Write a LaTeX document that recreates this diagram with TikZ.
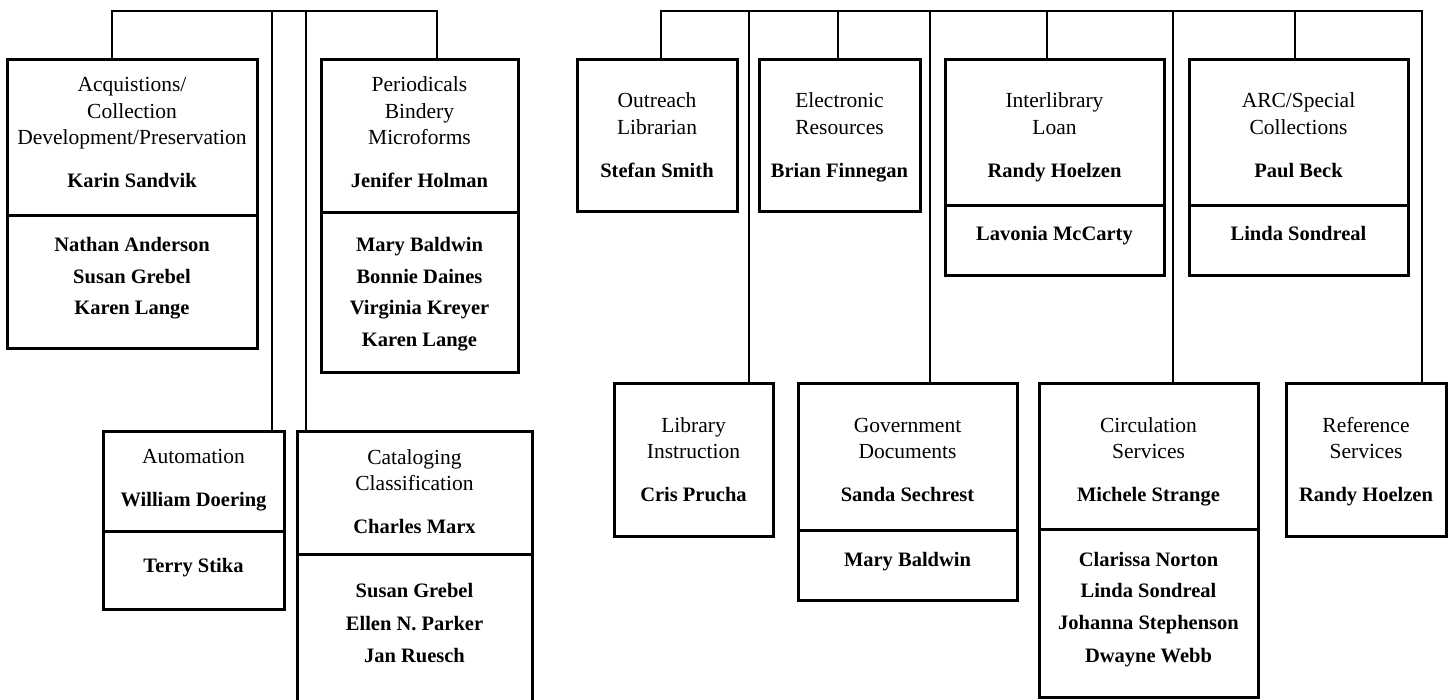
\documentclass[tikz,border=0pt]{standalone}
\usepackage{fontspec}
\setmainfont{Liberation Serif}
\newcommand{\mkbox}[5]{\node[box, minimum width={#4-#2}, minimum height={#5-#3}] (#1) at ({(#2+#4)/2},{(#3+#5)/2}) {};}
\newcommand{\mkdiv}[2]{\draw[div] (#1.west |- 0,#2) -- (#1.east |- 0,#2);}
\newcommand{\txt}[5]{\node[#2] (#1) at (#3.center |- 0,#4) {#5};}
\begin{document}
\begin{tikzpicture}[x=1pt,y=-1pt,
  box/.style={draw, line width=3pt, rectangle, inner sep=0pt, outer sep=0pt},
  div/.style={line width=3pt},
  conn/.style={line width=2.8pt, line join=miter},
  ttl/.style={anchor=base, inner sep=0pt, font=\fontsize{21.5}{26}\selectfont},
  nm/.style={anchor=base, inner sep=0pt, font=\fontsize{20.5}{26}\selectfont\bfseries}]
\useasboundingbox (0,0) rectangle (1452,700);
\clip (0,0) rectangle (1452,700);

% ---------- boxes ----------
\mkbox{acq}{7}{60}{257}{349}
\mkbox{per}{321}{60}{518}{373}
\mkbox{auto}{103}{432}{284}{609}
\mkbox{cat}{297}{432}{532}{720}
\mkbox{out}{577}{60}{737}{212}
\mkbox{ele}{759}{60}{920}{212}
\mkbox{ill}{945}{60}{1164}{276}
\mkbox{arc}{1189}{60}{1408}{276}
\mkbox{li}{614}{384}{773}{536}
\mkbox{gov}{798}{384}{1017}{600}
\mkbox{circ}{1039}{384}{1258}{697}
\mkbox{ref}{1286}{384}{1446}{536}

\mkdiv{acq}{216}
\mkdiv{per}{213}
\mkdiv{auto}{531}
\mkdiv{cat}{554}
\mkdiv{ill}{206}
\mkdiv{arc}{206}
\mkdiv{gov}{530}
\mkdiv{circ}{529}

% ---------- connectors ----------
\coordinate (L1) at (112,11);
\coordinate (L2) at (272,11);
\coordinate (L3) at (306,11);
\coordinate (L4) at (437,11);
\draw[conn] (L1 |- acq.north) -- (L1) -- (L4) -- (L4 |- per.north);
\draw[conn] (L2) -- (L2 |- auto.north);
\draw[conn] (L3) -- (L3 |- cat.north);

\coordinate (R1) at (661,11);
\coordinate (R2) at (749,11);
\coordinate (R3) at (838,11);
\coordinate (R4) at (930,11);
\coordinate (R5) at (1047,11);
\coordinate (R6) at (1173,11);
\coordinate (R7) at (1295,11);
\coordinate (R8) at (1422,11);
\draw[conn] (R1 |- out.north) -- (R1) -- (R8) -- (R8 |- ref.north);
\draw[conn] (R2) -- (R2 |- li.north);
\draw[conn] (R3) -- (R3 |- ele.north);
\draw[conn] (R4) -- (R4 |- gov.north);
\draw[conn] (R5) -- (R5 |- ill.north);
\draw[conn] (R6) -- (R6 |- circ.north);
\draw[conn] (R7) -- (R7 |- arc.north);

% ---------- texts ----------
\txt{acqA}{ttl}{acq}{92}{Acquistions/}
\txt{acqB}{ttl}{acq}{119}{Collection}
\txt{acqC}{ttl}{acq}{145}{Development/Preservation}
\txt{acqN}{nm}{acq}{188}{Karin Sandvik}
\txt{acqS1}{nm}{acq}{252}{Nathan Anderson}
\txt{acqS2}{nm}{acq}{283.5}{Susan Grebel}
\txt{acqS3}{nm}{acq}{315}{Karen Lange}

\txt{perA}{ttl}{per}{92}{Periodicals}
\txt{perB}{ttl}{per}{118.5}{Bindery}
\txt{perC}{ttl}{per}{145}{Microforms}
\txt{perN}{nm}{per}{188}{Jenifer Holman}
\txt{perS1}{nm}{per}{252}{Mary Baldwin}
\txt{perS2}{nm}{per}{283.5}{Bonnie Daines}
\txt{perS3}{nm}{per}{315}{Virginia Kreyer}
\txt{perS4}{nm}{per}{347}{Karen Lange}

\txt{autoA}{ttl}{auto}{464}{Automation}
\txt{autoN}{nm}{auto}{507}{William Doering}
\txt{autoS1}{nm}{auto}{572}{Terry Stika}

\txt{catA}{ttl}{cat}{465}{Cataloging}
\txt{catB}{ttl}{cat}{491}{Classification}
\txt{catN}{nm}{cat}{533}{Charles Marx}
\txt{catS1}{nm}{cat}{597}{Susan Grebel}
\txt{catS2}{nm}{cat}{630}{Ellen N. Parker}
\txt{catS3}{nm}{cat}{662}{Jan Ruesch}

\txt{outA}{ttl}{out}{108}{Outreach}
\txt{outB}{ttl}{out}{135}{Librarian}
\txt{outN}{nm}{out}{178}{Stefan Smith}

\txt{eleA}{ttl}{ele}{108}{Electronic}
\txt{eleB}{ttl}{ele}{135}{Resources}
\txt{eleN}{nm}{ele}{178}{Brian Finnegan}

\txt{illA}{ttl}{ill}{108}{Interlibrary}
\txt{illB}{ttl}{ill}{135}{Loan}
\txt{illN}{nm}{ill}{178}{Randy Hoelzen}
\txt{illS1}{nm}{ill}{241}{Lavonia McCarty}

\txt{arcA}{ttl}{arc}{108}{ARC/Special}
\txt{arcB}{ttl}{arc}{135}{Collections}
\txt{arcN}{nm}{arc}{178}{Paul Beck}
\txt{arcS1}{nm}{arc}{241}{Linda Sondreal}

\txt{liA}{ttl}{li}{433}{Library}
\txt{liB}{ttl}{li}{459}{Instruction}
\txt{liN}{nm}{li}{502}{Cris Prucha}

\txt{govA}{ttl}{gov}{433}{Government}
\txt{govB}{ttl}{gov}{459}{Documents}
\txt{govN}{nm}{gov}{502}{Sanda Sechrest}
\txt{govS1}{nm}{gov}{566}{Mary Baldwin}

\txt{circA}{ttl}{circ}{433}{Circulation}
\txt{circB}{ttl}{circ}{459}{Services}
\txt{circN}{nm}{circ}{502}{Michele Strange}
\txt{circS1}{nm}{circ}{566}{Clarissa Norton}
\txt{circS2}{nm}{circ}{597}{Linda Sondreal}
\txt{circS3}{nm}{circ}{629}{Johanna Stephenson}
\txt{circS4}{nm}{circ}{662}{Dwayne Webb}

\txt{refA}{ttl}{ref}{433}{Reference}
\txt{refB}{ttl}{ref}{459}{Services}
\txt{refN}{nm}{ref}{502}{Randy Hoelzen}
\end{tikzpicture}
\end{document}
